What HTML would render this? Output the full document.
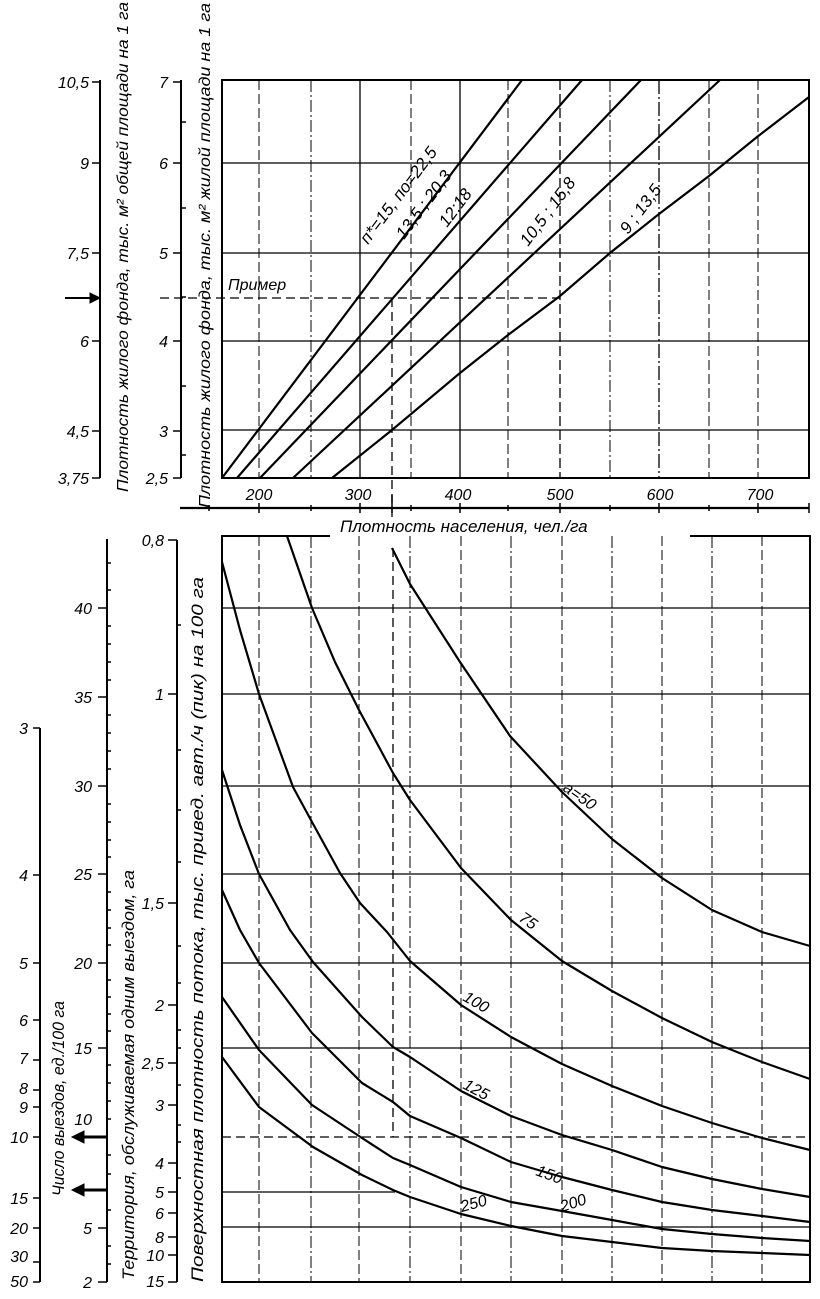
<!DOCTYPE html>
<html><head><meta charset="utf-8"><style>
html,body{margin:0;padding:0;background:#fff}
svg{display:block}
text{font-family:"Liberation Sans",sans-serif;font-style:italic;fill:#000}
</style></head><body>
<svg width="820" height="1299" viewBox="0 0 820 1299" xmlns="http://www.w3.org/2000/svg">
<g stroke="#000" fill="none">
<rect x="222" y="80" width="587" height="398" stroke-width="2"/>
<g stroke-width="1.3">
<line x1="222" y1="163" x2="809" y2="163"/>
<line x1="222" y1="253" x2="809" y2="253"/>
<line x1="222" y1="341" x2="809" y2="341"/>
<line x1="222" y1="430" x2="809" y2="430"/>
<line x1="360" y1="80" x2="360" y2="478"/>
<line x1="460" y1="80" x2="460" y2="478"/>
<line x1="560" y1="80" x2="560" y2="478" stroke-dasharray="10,4"/>
<line x1="659" y1="80" x2="659" y2="478" stroke-dasharray="14,3,2,3"/>
</g>
<g stroke-width="1" stroke-dasharray="10,4">
<line x1="259" y1="80" x2="259" y2="478"/>
<line x1="411" y1="80" x2="411" y2="478"/>
<line x1="508" y1="80" x2="508" y2="478"/>
<line x1="709" y1="80" x2="709" y2="478"/>
<line x1="758" y1="80" x2="758" y2="478"/>
</g>
<line x1="311" y1="80" x2="311" y2="478" stroke-width="1" stroke-dasharray="12,3,2,3"/>
<line x1="610" y1="80" x2="610" y2="478" stroke-width="1" stroke-dasharray="12,3,2,3"/>
<line x1="160" y1="298" x2="560" y2="298" stroke-width="1.3" stroke-dasharray="9,5"/>
<line x1="392" y1="298" x2="392" y2="520" stroke-width="1.3" stroke-dasharray="9,5"/>
<g stroke-width="2.2">
<line x1="222" y1="478" x2="522" y2="80"/>
<line x1="237" y1="478" x2="582" y2="80"/>
<line x1="260" y1="478" x2="641" y2="80"/>
<line x1="293" y1="478" x2="720" y2="80"/>
<polyline points="332,478 392,430 460,373 508,335 560,296 610,253 659,214 709,176 757,137 809,97"/>
</g>
<line x1="100" y1="80" x2="100" y2="478" stroke-width="2"/>
<line x1="181" y1="80" x2="181" y2="478" stroke-width="2"/>
<g stroke-width="1.5">
<path d="M92 82H100M92 163H100M92 253H100M92 341H100M92 431H100M92 478H100"/>
<path d="M173 82H181M173 163H181M173 253H181M173 341H181M173 431H181M173 478H181"/>
<path d="M181 122H186M181 208H186M181 297H186M181 386H186M181 455H186"/>
</g>
<path d="M65 298H96" stroke-width="2"/>
<path d="M100 298L90 293V303Z" fill="#000"/>
<line x1="180" y1="508" x2="809" y2="508" stroke-width="2.2"/>
<path d="M259 503V513M360 503V513M460 503V513M560 503V513M659 503V513M758 503V513M209 505V511M311 505V511M411 505V511M508 505V511M610 505V511M709 505V511M809 503V513M392 495V513" stroke-width="1.5"/>
<path d="M330 536H222V1282H810V536H690" stroke-width="2"/>
<g stroke-width="1.3">
<line x1="222" y1="608" x2="810" y2="608"/>
<line x1="222" y1="694" x2="810" y2="694"/>
<line x1="222" y1="786" x2="810" y2="786"/>
<line x1="222" y1="874" x2="810" y2="874"/>
<line x1="222" y1="963" x2="810" y2="963"/>
<line x1="222" y1="1048" x2="810" y2="1048"/>
<line x1="222" y1="1192" x2="395" y2="1192"/>
<line x1="222" y1="1227" x2="810" y2="1227"/>
</g>
<line x1="222" y1="1137" x2="810" y2="1137" stroke-width="1.3" stroke-dasharray="9,5"/>
<g stroke-width="1" stroke-dasharray="10,4">
<line x1="259" y1="536" x2="259" y2="1282"/>
<line x1="359" y1="536" x2="359" y2="1282"/>
<line x1="461" y1="536" x2="461" y2="1282"/>
<line x1="562" y1="536" x2="562" y2="1282"/>
<line x1="662" y1="536" x2="662" y2="1282"/>
<line x1="762" y1="536" x2="762" y2="1282"/>
</g>
<g stroke-width="1" stroke-dasharray="12,3,2,3">
<line x1="311" y1="536" x2="311" y2="1282"/>
<line x1="410" y1="536" x2="410" y2="1282"/>
<line x1="511" y1="536" x2="511" y2="1282"/>
<line x1="612" y1="536" x2="612" y2="1282"/>
<line x1="712" y1="536" x2="712" y2="1282"/>
</g>
<line x1="393" y1="548" x2="393" y2="1137" stroke-width="1.3" stroke-dasharray="9,5"/>
<g stroke-width="2.2" stroke-linejoin="round">
<polyline points="392,548 410,584 460,662 510,736 562,792 612,839 662,878 712,910 762,932 810,946"/>
<polyline points="287,536 312,608 335,662 359,710 393,773 410,800 461,868 511,920 562,961 612,991 662,1018 712,1042 762,1062 810,1079"/>
<polyline points="222,562 240,630 259,694 293,787 312,822 340,873 360,903 387,932 410,961 461,1005 511,1037 562,1064 612,1086 662,1106 712,1123 762,1138 810,1150"/>
<polyline points="222,770 240,825 259,874 290,930 313,962 362,1017 393,1047 410,1057 461,1091 511,1116 562,1135 612,1150 662,1167 712,1179 762,1189 810,1197"/>
<polyline points="222,890 240,930 259,963 312,1033 362,1083 393,1102 410,1116 461,1138 511,1162 562,1177 612,1190 662,1202 712,1210 762,1216 810,1222"/>
<polyline points="222,997 259,1050 312,1105 362,1138 393,1158 410,1165 461,1187 511,1202 562,1211 612,1220 662,1229 712,1234 762,1238 810,1241"/>
<polyline points="222,1057 259,1107 313,1147 362,1175 393,1190 410,1197 461,1214 511,1226 562,1236 612,1242 662,1248 712,1251 762,1253 810,1255"/>
</g>
<line x1="40" y1="728" x2="40" y2="1282" stroke-width="2"/>
<line x1="107" y1="539" x2="107" y2="1282" stroke-width="2"/>
<line x1="177" y1="540" x2="177" y2="1282" stroke-width="2"/>
<g stroke-width="1.5">
<path d="M33 728H40M33 875H40M33 963H40M33 1020H40M33 1060H40M33 1090H40M33 1107H40M33 1137H40M33 1198H40M33 1228H40M33 1262H40M33 1282H40"/>
<path d="M98 608H107M98 697H107M98 786H107M98 874H107M98 963H107M98 1048H107M98 1137H107M98 1228H107M98 1282H107"/>
<path d="M107 563H111M107 590H111M107 626H111M107 644H111M107 662H111M107 680H111M107 715H111M107 733H111M107 751H111M107 769H111M107 804H111M107 822H111M107 840H111M107 857H111M107 892H111M107 910H111M107 928H111M107 945H111M107 980H111M107 997H111M107 1014H111M107 1031H111M107 1065H111M107 1083H111M107 1101H111M107 1119H111M107 1155H111M107 1174H111M107 1210H111M107 1246H111M107 1264H111"/>
<path d="M168 540H177M168 694H177M168 903H177M168 1005H177M168 1063H177M168 1105H177M168 1163H177M168 1192H177M168 1213H177M168 1237H177M168 1255H177M168 1282H177"/>
<path d="M177 625H181M177 750H181M177 810H181M177 862H181M177 946H181M177 983H181M177 1030H181M177 1048H181M177 1085H181M177 1125H181M177 1142H181M177 1178H181"/>
</g>
<path d="M82 1137H107M82 1190H107" stroke-width="3"/>
<path d="M72 1137L84 1131V1143Z M72 1190L84 1184V1196Z" fill="#000"/>
</g>
<g font-size="16">
<text x="89" y="88" text-anchor="end">10,5</text>
<text x="89" y="169" text-anchor="end">9</text>
<text x="89" y="259" text-anchor="end">7,5</text>
<text x="89" y="347" text-anchor="end">6</text>
<text x="89" y="437" text-anchor="end">4,5</text>
<text x="89" y="484" text-anchor="end">3,75</text>
<text x="168" y="88" text-anchor="end">7</text>
<text x="168" y="169" text-anchor="end">6</text>
<text x="168" y="259" text-anchor="end">5</text>
<text x="168" y="347" text-anchor="end">4</text>
<text x="168" y="437" text-anchor="end">3</text>
<text x="168" y="484" text-anchor="end">2,5</text>
<text x="259" y="500" text-anchor="middle">200</text>
<text x="358" y="500" text-anchor="middle">300</text>
<text x="458" y="500" text-anchor="middle">400</text>
<text x="560" y="500" text-anchor="middle">500</text>
<text x="660" y="500" text-anchor="middle">600</text>
<text x="760" y="500" text-anchor="middle">700</text>
<text x="228" y="290">Пример</text>
<text x="340" y="532" font-size="17">Плотность населения, чел./га</text>
<text transform="translate(128,492) rotate(-90)" textLength="490" lengthAdjust="spacingAndGlyphs">Плотность жилого фонда, тыс. м² общей площади на 1 га</text>
<text transform="translate(210,508) rotate(-90)" textLength="505" lengthAdjust="spacingAndGlyphs">Плотность жилого фонда, тыс. м² жилой площади на 1 га</text>
<g font-size="17">
<text transform="translate(368,245) rotate(-53)">п*=15, по=22,5</text>
<text transform="translate(404,240) rotate(-53)">13,5 ; 20,3</text>
<text transform="translate(447,228) rotate(-53)">12;18</text>
<text transform="translate(528,247) rotate(-53)">10,5 ; 15,8</text>
<text transform="translate(628,235) rotate(-53)">9 ; 13,5</text>
</g>
<text x="28" y="734" text-anchor="end">3</text>
<text x="28" y="881" text-anchor="end">4</text>
<text x="28" y="969" text-anchor="end">5</text>
<text x="28" y="1026" text-anchor="end">6</text>
<text x="28" y="1064" text-anchor="end">7</text>
<text x="28" y="1094" text-anchor="end">8</text>
<text x="28" y="1113" text-anchor="end">9</text>
<text x="28" y="1143" text-anchor="end">10</text>
<text x="28" y="1204" text-anchor="end">15</text>
<text x="28" y="1234" text-anchor="end">20</text>
<text x="28" y="1262" text-anchor="end">30</text>
<text x="28" y="1287" text-anchor="end">50</text>
<text x="92" y="614" text-anchor="end">40</text>
<text x="92" y="703" text-anchor="end">35</text>
<text x="92" y="792" text-anchor="end">30</text>
<text x="92" y="880" text-anchor="end">25</text>
<text x="92" y="969" text-anchor="end">20</text>
<text x="92" y="1054" text-anchor="end">15</text>
<text x="92" y="1125" text-anchor="end">10</text>
<text x="92" y="1234" text-anchor="end">5</text>
<text x="92" y="1288" text-anchor="end">2</text>
<text x="164" y="546" text-anchor="end">0,8</text>
<text x="164" y="700" text-anchor="end">1</text>
<text x="164" y="909" text-anchor="end">1,5</text>
<text x="164" y="1011" text-anchor="end">2</text>
<text x="164" y="1069" text-anchor="end">2,5</text>
<text x="164" y="1111" text-anchor="end">3</text>
<text x="164" y="1169" text-anchor="end">4</text>
<text x="164" y="1198" text-anchor="end">5</text>
<text x="164" y="1219" text-anchor="end">6</text>
<text x="164" y="1243" text-anchor="end">8</text>
<text x="164" y="1261" text-anchor="end">10</text>
<text x="164" y="1287" text-anchor="end">15</text>
<text transform="translate(64,1196) rotate(-90)" textLength="195" lengthAdjust="spacingAndGlyphs" font-size="17">Число выездов, ед./100 га</text>
<text transform="translate(134,1280) rotate(-90)" textLength="410" lengthAdjust="spacingAndGlyphs" font-size="17">Территория, обслуживаемая одним выездом, га</text>
<text transform="translate(203,1282) rotate(-90)" textLength="705" lengthAdjust="spacingAndGlyphs" font-size="17">Поверхностная плотность потока, тыс. привед. авт./ч (пик) на 100 га</text>
<text transform="translate(562,790) rotate(35)">a=50</text>
<text transform="translate(518,920) rotate(35)">75</text>
<text transform="translate(462,1000) rotate(30)">100</text>
<text transform="translate(462,1088) rotate(28)">125</text>
<text transform="translate(535,1175) rotate(20)">150</text>
<text transform="translate(562,1212) rotate(-18)">200</text>
<text transform="translate(462,1212) rotate(-15)">250</text>
</g>
</svg>
</body></html>
